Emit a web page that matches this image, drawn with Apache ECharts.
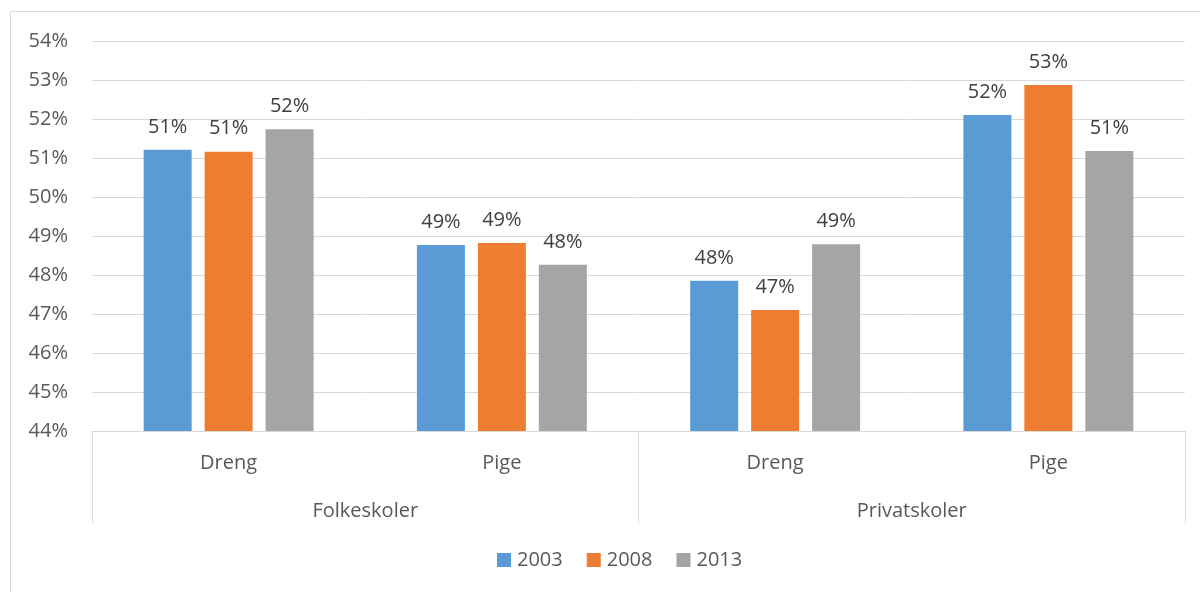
<!DOCTYPE html>
<html>
<head>
<meta charset="utf-8">
<script src="https://cdn.jsdelivr.net/npm/echarts@6/dist/echarts.min.js"></script>
<style>
html,body{margin:0;padding:0;background:#fff;}
#chart{width:1200px;height:592px;}
</style>
</head>
<body>
<div id="chart"></div>
<script>
const categories = ['Dreng', 'Pige', 'Dreng', 'Pige'];
const groups = ['Folkeskoler', 'Privatskoler'];
const seriesNames = ['2003', '2008', '2013'];
const values2003 = [51.21, 48.77, 47.85, 52.10];
const values2008 = [51.16, 48.82, 47.10, 52.87];
const values2013 = [51.74, 48.26, 48.79, 51.18];
const yTicks = { min: 44, max: 54, interval: 1 };
const colors = ['#5b9bd5', '#ed7d31', '#a5a5a5'];

const chart = echarts.init(document.getElementById('chart'));
const font = '"Open Sans", "Noto Sans", sans-serif';
const fs = 20;
const allValues = [values2003, values2008, values2013];

chart.setOption({
  animation: false,
  color: colors,
  textStyle: { fontFamily: font },
  graphic: [
    { type: 'line', shape: { x1: 10.5, y1: 11.5, x2: 1200, y2: 11.5 }, style: { stroke: '#d9d9d9', lineWidth: 1 } },
    { type: 'line', shape: { x1: 10.5, y1: 11.5, x2: 10.5, y2: 592 }, style: { stroke: '#d9d9d9', lineWidth: 1 } }
  ],
  grid: { left: 92, right: 15, top: 41, bottom: 161, containLabel: false },
  legend: {
    bottom: 17,
    left: 492,
    itemWidth: 14,
    itemHeight: 14,
    itemGap: 24,
    icon: 'rect',
    textStyle: { fontSize: fs, color: '#595959', fontFamily: font, padding: [0, 0, 0, 1] },
    data: seriesNames
  },
  xAxis: [
    {
      type: 'category',
      data: categories,
      position: 'bottom',
      axisLine: { show: true, lineStyle: { color: '#d9d9d9', width: 1 } },
      axisTick: { show: false },
      axisLabel: { fontSize: fs, color: '#595959', margin: 22, fontFamily: font }
    },
    {
      type: 'category',
      data: groups,
      position: 'bottom',
      axisLine: { show: false },
      axisTick: { show: true, length: 92, lineStyle: { color: '#d9d9d9', width: 1 } },
      axisLabel: { fontSize: fs, color: '#595959', margin: 70, fontFamily: font }
    }
  ],
  yAxis: {
    type: 'value',
    min: yTicks.min,
    max: yTicks.max,
    interval: yTicks.interval,
    axisLine: { show: false },
    axisTick: { show: false },
    splitLine: { lineStyle: { color: '#d9d9d9', width: 1 } },
    axisLabel: { formatter: '{value}%', fontSize: fs, color: '#595959', margin: 24, fontFamily: font }
  },
  series: seriesNames.map((name, i) => ({
    name: name,
    type: 'bar',
    xAxisIndex: 0,
    data: allValues[i],
    barWidth: 48,
    barGap: '27%',
    label: {
      show: true,
      position: 'top',
      distance: 13,
      fontSize: fs,
      color: '#404040',
      fontFamily: font,
      formatter: p => Math.round(p.value) + '%'
    }
  }))
});
</script>
</body>
</html>
